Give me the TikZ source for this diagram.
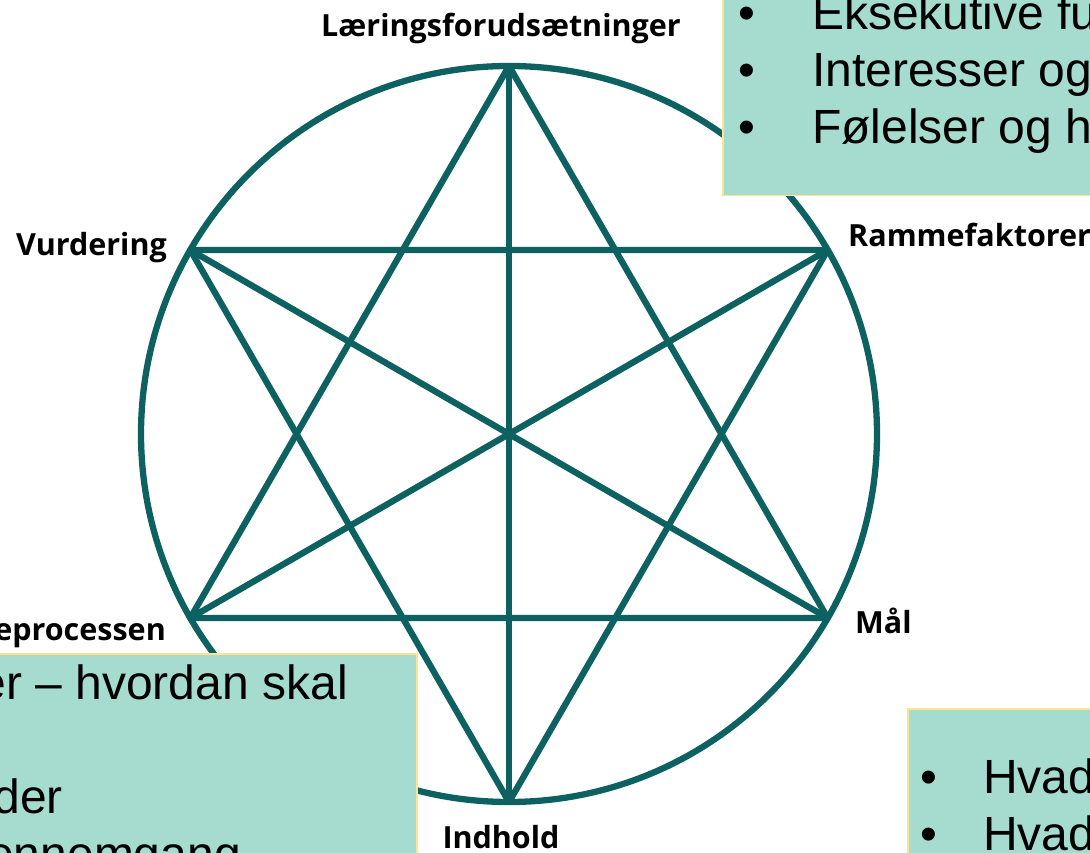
\documentclass[tikz,border=0pt]{standalone}
\usepackage{fontspec}
\setmainfont{Liberation Sans}
\newfontfamily\cornerfont{Open Sans}
\usetikzlibrary{positioning}
\definecolor{starline}{HTML}{0E6161}
\definecolor{notefill}{HTML}{A6DCCF}
\definecolor{noteedge}{HTML}{FFE38F}

\begin{document}
\begin{tikzpicture}[
  x=1pt, y=-1pt,
  star/.style={draw=starline, line width=6.3pt, line join=round},
  corner/.style={font=\cornerfont\bfseries\fontsize{30.5}{37}\selectfont, inner sep=0pt},
  note/.style={fill=notefill, draw=noteedge, line width=1.5pt, inner sep=0pt, anchor=north west},
  notetext/.style={font=\fontsize{48}{58}\selectfont, inner sep=0pt, anchor=base west},
  bullet/.style={font=\fontsize{48}{58}\selectfont, inner sep=0pt, anchor=base}
]
\useasboundingbox (0,0) rectangle (1090,853);
\clip (0,0) rectangle (1090,853);

% Circle and corners
\coordinate (centre) at (509,434);
\draw[star] (centre) circle[radius=368pt];
\foreach \name/\ang in {laering/90, ramme/30, maal/-30, indhold/-90, proces/-150, vurdering/150}
  \coordinate (\name) at ([shift={(\ang:368pt)}]centre);

% Star
\draw[star] (laering) -- (proces) -- (maal) -- cycle;
\draw[star] (indhold) -- (vurdering) -- (ramme) -- cycle;
\draw[star] (laering) -- (indhold);
\draw[star] (vurdering) -- (maal);
\draw[star] (ramme) -- (proces);

% Corner labels
\node[corner, anchor=base] (laeringtxt) at (501,37) {Læringsforudsætninger};
\node[corner, anchor=base east] (vurderingtxt) at (167,255) {Vurdering};
\node[corner, anchor=base west] (rammetxt) at (848,247) {Rammefaktorer};
\node[corner, anchor=base east] (procestxt) at (166,640) {eprocessen};
\node[corner, anchor=base west] (maaltxt) at (855,633) {Mål};
\node[corner, anchor=base] (indholdtxt) at (501,848) {Indhold};

% Notes
\node[note, minimum width=400pt, minimum height=225pt] (forudnote) at (722,-30) {};
\foreach \txt [count=\i] in {Eksekutive fu, Interesser og, Følelser og h} {
  \node[bullet] (forudbullet\i) at (747,-27+57*\i) {•};
  \node[notetext] (forudtxt\i) at (812,-27+57*\i) {\txt};
}

\node[note, minimum width=200pt, minimum height=200pt] (maalnote) at (907,708) {};
\foreach \i in {1,2} {
  \node[bullet] (maalbullet\i) at (929,736+57*\i) {•};
  \node[notetext] (maaltxt\i) at (983,736+57*\i) {Hvad};
}

\node[note, minimum width=440pt, minimum height=250pt] (metodenote) at (-24,653) {};
\node[notetext, anchor=base east] (metodetxt1) at (348,699) {er – hvordan skal};
\node[notetext, anchor=base east] (metodetxt2) at (63,813) {der};
\node[notetext, anchor=base east] (metodetxt3) at (241,870) {ennemgang};

\end{tikzpicture}
\end{document}
